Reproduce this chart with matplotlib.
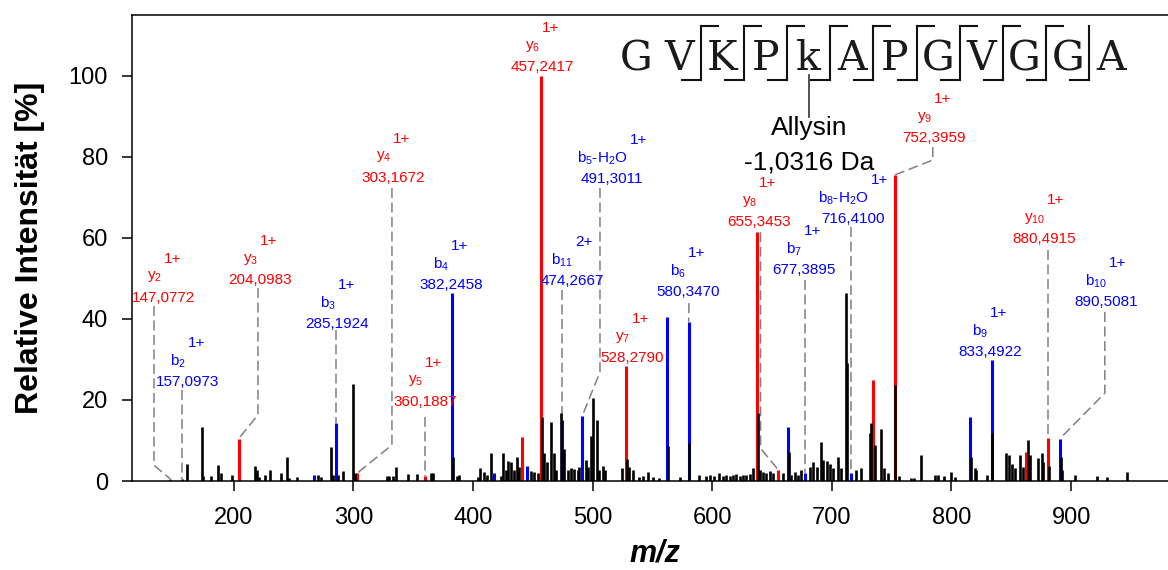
import numpy as np
import matplotlib.pyplot as plt

plt.rcParams['font.family'] = ['Liberation Sans', 'DejaVu Sans']

# annotated fragment ions
ion_type = ['y', 'b', 'y', 'b', 'y', 'y', 'b', 'y', 'b', 'b', 'y', 'b', 'y', 'b', 'b', 'y', 'b', 'y', 'b']
ion_num = [2, 2, 3, 3, 4, 5, 4, 6, 11, 5, 7, 6, 8, 7, 8, 9, 9, 10, 10]
ion_loss = ['', '', '', '', '', '', '', '', '', '-H2O', '', '', '', '', '-H2O', '', '', '', '']
ion_charge = [1, 1, 1, 1, 1, 1, 1, 1, 2, 1, 1, 1, 1, 1, 1, 1, 1, 1, 1]
ion_mz = [147.0772, 157.0973, 204.0983, 285.1924, 303.1672, 360.1887, 382.2458, 457.2417,
          474.2667, 491.3011, 528.2790, 580.3470, 655.3453, 677.3895, 716.4100, 752.3959,
          833.4922, 880.4915, 890.5081]
ion_int = [0.5, 0.5, 10.4, 14.4, 1.9, 1.2, 46.4, 100.0, 15.0, 16.0, 28.4, 39.3, 2.7, 1.9,
           1.9, 75.5, 29.9, 10.6, 10.4]

# other coloured peaks (not labelled)
red_mz = [441.0, 637.4, 734.4, 861.9]
red_int = [10.9, 61.5, 24.9, 7.2]
blue_mz = [267.2, 417.3, 445.2, 562.3, 663.4, 815.3]
blue_int = [1.5, 1.9, 3.6, 40.5, 13.4, 15.8]

# unassigned peaks
black_mz = [161.3, 173.2, 174.6, 181.3, 187.2, 189.1, 198.9, 217.6, 219.2, 221.2, 226.2, 230.4,
            239.3, 244.4, 246.3, 253.3, 270.6, 272.8, 281.2, 283.1, 286.8, 291.5, 299.9, 301.5,
            327.8, 329.5, 332.8, 335.6, 345.9, 353.1, 364.9, 366.3, 383.0, 386.6, 388.5, 403.9,
            406.1, 408.9, 411.7, 415.0, 423.4, 424.8, 427.6, 429.6, 431.8, 434.1, 436.8, 438.8,
            448.5, 451.3, 454.1, 458.0, 459.7, 461.9, 465.3, 467.5, 469.5, 473.6, 475.9, 479.2,
            482.0, 484.8, 487.6, 489.0, 494.6, 496.0, 498.7, 500.4, 503.5, 505.7, 508.5, 510.5,
            524.7, 529.0, 530.8, 533.6, 539.2, 542.0, 546.2, 550.4, 555.9, 563.0, 573.5, 581.0,
            588.6, 595.0, 597.8, 601.9, 606.1, 609.0, 611.7, 614.5, 617.3, 620.1, 622.9, 625.7,
            628.5, 631.3, 634.0, 638.2, 639.6, 642.4, 645.2, 648.0, 650.8, 659.2, 664.2, 666.1,
            668.9, 671.7, 674.5, 681.4, 684.3, 687.4, 690.7, 692.6, 696.2, 698.2, 701.0, 705.2,
            707.9, 711.6, 713.0, 720.5, 724.1, 731.7, 733.1, 735.8, 740.8, 743.6, 747.0, 753.2,
            756.2, 766.5, 768.8, 774.3, 786.0, 788.9, 794.0, 800.0, 802.8, 816.1, 819.5, 820.9,
            829.3, 834.3, 846.0, 848.0, 850.2, 853.0, 857.3, 860.1, 863.6, 865.5, 872.5, 875.3,
            876.7, 881.9, 891.3, 892.6, 903.2, 921.3, 929.7, 946.4]
black_int = [4.1, 13.3, 1.2, 1.2, 3.9, 2.0, 1.5, 3.8, 2.7, 1.0, 1.6, 2.7,
             1.9, 5.8, 0.7, 0.9, 1.5, 1.0, 8.3, 1.5, 1.5, 2.5, 24.0, 1.9,
             1.2, 1.2, 1.2, 3.4, 1.7, 1.7, 1.9, 1.9, 6.0, 1.2, 1.5, 1.0,
             3.1, 2.3, 1.5, 6.8, 1.2, 7.0, 2.7, 4.9, 4.7, 2.7, 6.0, 3.5,
             2.5, 2.3, 2.0, 15.7, 6.8, 4.7, 14.6, 6.8, 2.7, 16.9, 7.8, 2.7,
             3.1, 2.9, 2.7, 3.5, 5.3, 3.5, 11.0, 20.5, 15.0, 2.7, 3.8, 2.7,
             3.1, 5.4, 3.5, 2.7, 1.0, 1.2, 2.3, 1.0, 0.8, 8.7, 1.0, 9.3,
             1.6, 1.3, 1.6, 1.3, 1.9, 1.2, 1.5, 1.2, 1.5, 1.8, 1.2, 1.5,
             1.5, 1.8, 3.2, 16.7, 2.7, 2.3, 1.9, 2.5, 2.0, 2.0, 7.2, 1.5,
             2.3, 1.5, 2.7, 3.5, 4.7, 3.5, 9.7, 5.1, 4.9, 4.3, 3.1, 5.9,
             3.1, 46.4, 29.0, 2.7, 3.1, 11.8, 14.2, 8.9, 12.8, 3.1, 1.9, 23.7,
             1.2, 0.8, 0.8, 6.4, 1.6, 1.6, 1.3, 2.3, 1.0, 6.0, 3.1, 2.7,
             1.5, 11.8, 7.0, 6.4, 4.3, 3.1, 6.4, 3.5, 10.0, 6.4, 5.6, 6.8,
             4.7, 3.8, 5.9, 2.7, 1.5, 1.2, 1.0, 2.3]

sequence = ['G', 'V', 'K', 'P', 'k', 'A', 'P', 'G', 'V', 'G', 'G', 'A']

# label placement (data coords) and leader lines: (x, top, knee) or None
label_x = [141.7, 161.8, 222.0, 286.8, 333.1, 359.9, 381.6, 457.7, 482.7, 516.2, 532.9, 579.7,
           639.0, 676.6, 717.6, 785.3, 832.1, 877.2, 929.0]
label_y = [45.2, 24.4, 49.6, 38.7, 74.8, 19.5, 48.4, 102.1, 49.3, 74.5, 30.3, 46.6,
           63.9, 52.1, 64.6, 84.6, 31.8, 59.7, 44.2]
leaders = [(133.4, 43.2, 3.9), (None, 22.5, None), (220.3, 47.6, 16.3), (None, 37.3, None),
           (332.3, 72.3, 8.9), (None, 15.8, None), None, None, (None, 47.1, None),
           (506.2, 72.3, 26.9), None, (580.6, 43.9, 43.9), (640.4, 61.4, 8.1),
           (None, 49.6, None), (None, 62.7, None), (784.4, 82.4, 79.2), None,
           (None, 57.0, None), (928.2, 41.7, 21.7)]

RED = '#ff0000'
BLUE = '#0000ff'
GREY = '#808080'

fig = plt.figure(figsize=(11.68, 5.70), dpi=100)
ax = fig.add_axes([131.5 / 1168, 89 / 570, 1036.5 / 1168, 466 / 570])
ax.set_xlim(114.6, 981)
ax.set_ylim(0, 115)

ion_col = [RED if t == 'y' else BLUE for t in ion_type]
ax.vlines(red_mz, 0, red_int, color=RED, lw=2.2, zorder=2)
ax.vlines(blue_mz, 0, blue_int, color=BLUE, lw=2.2, zorder=2)
ax.vlines(ion_mz, 0, ion_int, color=ion_col, lw=2.2, zorder=2)
ax.vlines(black_mz, 0, black_int, color='black', lw=1.9, zorder=3)

# leader lines
for i, ld in enumerate(leaders):
    if ld is None:
        continue
    lx, top, knee = ld
    if lx is None:
        xs, ys = [ion_mz[i], ion_mz[i]], [top, ion_int[i]]
    else:
        xs, ys = [lx, lx, ion_mz[i]], [top, knee, ion_int[i]]
    ax.plot(xs, ys, color=GREY, lw=1.1, ls=(0, (6.5, 3)), zorder=1)

# ion labels
renderer = fig.canvas.get_renderer()


def text_width(s, size):
    t = ax.text(0, 0, s, fontsize=size)
    w = t.get_window_extent(renderer).width
    t.remove()
    return w


fs = 11
for i in range(len(ion_mz)):
    name = ion_type[i] + r'$\mathregular{_{%d}}$' % ion_num[i]
    if ion_loss[i]:
        name += r'-H$\mathregular{_2}$O'
    charge = f'{ion_charge[i]}+'
    mass = f'{ion_mz[i]:.4f}'.replace('.', ',')
    c = ion_col[i]
    ax.text(label_x[i], label_y[i], mass, fontsize=fs, color=c, ha='center', va='center', zorder=4)
    wn = text_width(name, fs)
    wc = text_width(charge, fs)
    g = 2
    ax.annotate(name, (label_x[i], label_y[i]), xytext=((wn - g - wc) / 2, 21),
                textcoords='offset pixels', fontsize=fs, color=c, ha='right', va='center')
    ax.annotate(charge, (label_x[i], label_y[i]), xytext=((wn + g - wc) / 2, 39),
                textcoords='offset pixels', fontsize=fs, color=c, ha='left', va='center')

# peptide sequence with fragmentation marks
seq_x0 = 536.4
seq_step = 36.07
seq_base = 101.4
for j, aa in enumerate(sequence):
    ax.text(seq_x0 + j * seq_step, seq_base, aa, fontsize=29.5, family='DejaVu Serif',
            ha='center', va='baseline', color='#1a1a1a')
n = len(sequence)
b_seen = [ion_num[i] for i in range(len(ion_type)) if ion_type[i] == 'b']
y_seen = [ion_num[i] for i in range(len(ion_type)) if ion_type[i] == 'y']
y_top, y_bot = 112.3, 98.9
for k in range(1, n):
    has_b = k in b_seen
    has_y = (n - k) in y_seen
    if not (has_b or has_y):
        continue
    xb = seq_x0 + (k - 0.5) * seq_step
    ax.plot([xb, xb], [y_bot, y_top], color='#111111', lw=1.5, clip_on=False)
    if has_y:
        ax.plot([xb, xb + 14.2], [y_top, y_top], color='#111111', lw=1.5, clip_on=False)
    if has_b:
        ax.plot([xb - 15.9, xb], [y_bot, y_bot], color='#111111', lw=1.5, clip_on=False)

kx = seq_x0 + 4 * seq_step
ax.plot([kx, kx], [100.2, 89.8], color='#333333', lw=1.2)
ax.text(kx, 87.1, 'Allysin', fontsize=19, ha='center', va='center')
ax.text(kx, 78.7, '-1,0316 Da', fontsize=19, ha='center', va='center')

ax.set_xticks([200, 300, 400, 500, 600, 700, 800, 900])
ax.set_yticks([0, 20, 40, 60, 80, 100])
ax.tick_params(direction='out', length=7, width=1.1, labelsize=17)
ax.tick_params(axis='x', pad=12)
ax.tick_params(axis='y', pad=10)
ax.spines['right'].set_visible(False)
for s in ['left', 'bottom', 'top']:
    ax.spines[s].set_linewidth(1.1)

fig.text(30 / 1168, 1 - 248 / 570, 'Relative Intensität [%]', rotation=90, fontsize=23,
         fontweight='bold', ha='center', va='center')
fig.text(655 / 1168, 1 - 553 / 570, 'm/z', fontsize=22, fontweight='bold', style='italic',
         ha='center', va='center')

fig.savefig('out.png', dpi=100)
